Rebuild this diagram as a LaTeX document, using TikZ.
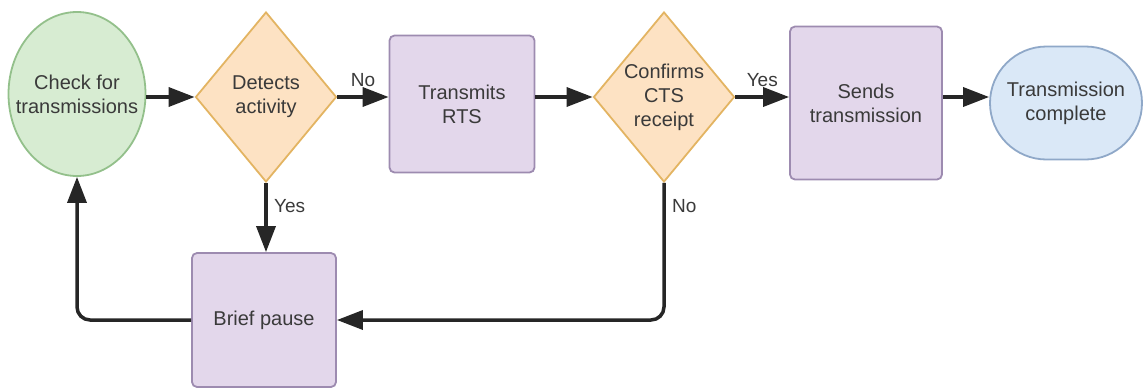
\documentclass[tikz,border=0pt]{standalone}
\usepackage{fontspec}
\setmainfont{Liberation Sans}
\usetikzlibrary{arrows.meta,shapes.geometric,shapes.misc}
\definecolor{txt}{HTML}{3A3A3A}
\definecolor{grf}{HTML}{D7ECD2}\definecolor{grd}{HTML}{93C08B}
\definecolor{orf}{HTML}{FDE2C3}\definecolor{ord}{HTML}{E3B462}
\definecolor{puf}{HTML}{E3D7EB}\definecolor{pud}{HTML}{9D8BB0}
\definecolor{blf}{HTML}{DAE8F7}\definecolor{bld}{HTML}{8FA8C8}
\begin{document}
\begin{tikzpicture}[x=1pt,y=-1pt,
  every node/.style={font=\fontsize{20}{24}\selectfont, text=txt, align=center},
  startnode/.style={ellipse, draw=grd, fill=grf, line width=1.8pt, minimum width=137pt, minimum height=164pt, inner sep=-16pt},
  decide/.style={diamond, draw=ord, fill=orf, line width=1.8pt, minimum width=141pt, minimum height=170pt, inner sep=-14pt},
  procbox/.style={rectangle, rounded corners=5pt, draw=pud, fill=puf, line width=1.8pt, inner sep=0pt},
  endnode/.style={rounded rectangle, draw=bld, fill=blf, line width=1.8pt, minimum width=152pt, minimum height=113pt, inner sep=0pt},
  conn/.style={line width=3.5pt, black!85, -{Triangle[length=26pt,width=19pt]}, rounded corners=13pt},
  lbl/.style={font=\fontsize{19}{22}\selectfont}]
\useasboundingbox (0,0) rectangle (1144,389);
\node[startnode] (check) at (77,94) {Check for\\transmissions};
\node[decide] (det) at (266,97) {Detects\\activity};
\node[procbox, minimum width=145pt, minimum height=137pt] (rts) at (462,104) {Transmits\\RTS};
\node[decide] (cts) at (664,97) {Confirms\\CTS\\receipt};
\node[procbox, minimum width=152pt, minimum height=153pt] (sends) at (866,103) {Sends\\transmission};
\node[endnode] (done) at (1066,103) {Transmission\\complete};
\node[procbox, minimum width=144pt, minimum height=134pt] (pause) at (264,320) {Brief pause};
\draw[conn] (det.west -| check.east) -- (det.west);
\draw[conn] (det.east) -- node[lbl, above=5pt] {No} (det.east -| rts.west);
\draw[conn] (cts.west -| rts.east) -- (cts.west);
\draw[conn] (cts.east) -- node[lbl, above=5pt] {Yes} (cts.east -| sends.west);
\draw[conn] (cts.east -| sends.east) -- (cts.east -| done.west);
\draw[conn] (det.south) -- node[lbl, right=3pt, pos=0.33] {Yes} (det.south |- pause.north);
\draw[conn] (cts.south) -- node[lbl, right=3pt, pos=0.17] {No} (cts.south |- pause.east) -- (pause.east);
\draw[conn] (pause.west) -- (pause.west -| check.south) -- (check.south);
\end{tikzpicture}
\end{document}
